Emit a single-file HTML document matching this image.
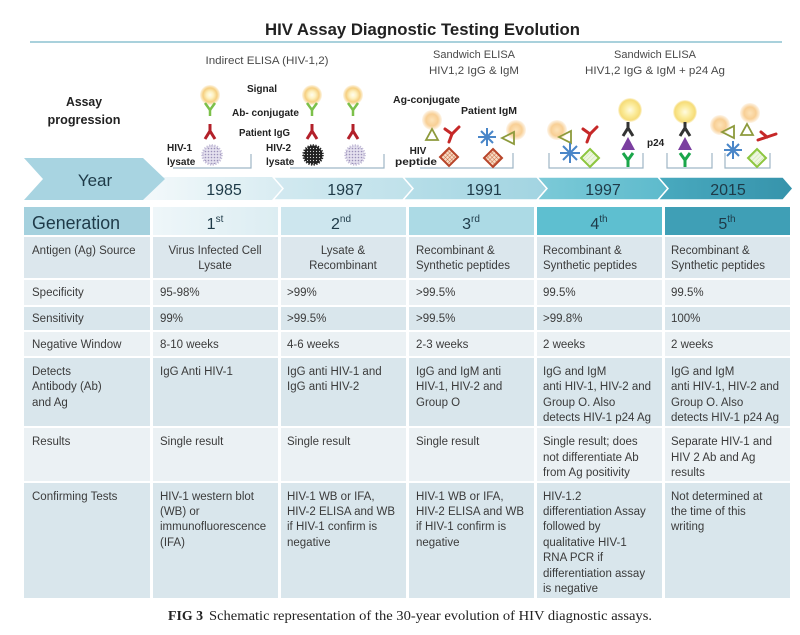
<!DOCTYPE html>
<html><head><meta charset="utf-8">
<style>
html,body{margin:0;padding:0;background:#fff;}
svg{display:block;}
text{font-family:"Liberation Sans",Arial,sans-serif;}
.t{font-size:11.5px;fill:#3b3b3b;}
.b{font-size:10px;font-weight:bold;fill:#222;}
.h{font-size:11px;fill:#4a4a4a;}
.y{font-size:16px;fill:#1e3a48;}
.o{font-size:16px;fill:#1e3a48;}
.s{font-size:10px;fill:#1e3a48;}
</style></head>
<body>
<svg width="800" height="635" viewBox="0 0 800 635" xmlns="http://www.w3.org/2000/svg">
<defs>
  <radialGradient id="sig" cx="50%" cy="50%" r="50%">
    <stop offset="0" stop-color="#fffdf0"/>
    <stop offset="0.35" stop-color="#fdf1c0"/>
    <stop offset="0.7" stop-color="#f6cf80"/>
    <stop offset="1" stop-color="#f6cf80" stop-opacity="0.2"/>
  </radialGradient>
  <radialGradient id="sigy" cx="50%" cy="50%" r="50%">
    <stop offset="0" stop-color="#fffbe0"/>
    <stop offset="0.5" stop-color="#fbeb9a"/>
    <stop offset="0.85" stop-color="#f6dc78"/>
    <stop offset="1" stop-color="#f6dc78" stop-opacity="0.2"/>
  </radialGradient>
  <radialGradient id="sigo" cx="50%" cy="50%" r="50%">
    <stop offset="0" stop-color="#fde3b8"/>
    <stop offset="0.6" stop-color="#f8cf95"/>
    <stop offset="1" stop-color="#f8cf95" stop-opacity="0.2"/>
  </radialGradient>
  <pattern id="dotsL" width="3" height="3" patternUnits="userSpaceOnUse">
    <rect width="3" height="3" fill="#e4e0ee"/>
    <circle cx="1.5" cy="1.5" r="0.8" fill="#9a90b8"/>
  </pattern>
  <pattern id="dotsD" width="3" height="3" patternUnits="userSpaceOnUse">
    <rect width="3" height="3" fill="#222"/>
    <circle cx="1.5" cy="1.5" r="0.6" fill="#ddd"/>
  </pattern>
  <pattern id="hatch" width="3" height="3" patternUnits="userSpaceOnUse" patternTransform="rotate(45)">
    <rect width="3" height="3" fill="#f7dcc4"/>
    <line x1="0" y1="0" x2="0" y2="3" stroke="#c4572f" stroke-width="0.8"/>
    <line x1="0" y1="0" x2="3" y2="0" stroke="#c4572f" stroke-width="0.8"/>
  </pattern>
  <pattern id="hatchG" width="3" height="3" patternUnits="userSpaceOnUse" patternTransform="rotate(45)">
    <rect width="3" height="3" fill="#eef6e0"/>
    <line x1="0" y1="0" x2="0" y2="3" stroke="#b5d98a" stroke-width="0.6"/>
  </pattern>
  <linearGradient id="g85" x1="0" x2="1"><stop offset="0" stop-color="#f4f9fb"/><stop offset="1" stop-color="#d6ebf1"/></linearGradient>
  <linearGradient id="g87" x1="0" x2="1"><stop offset="0" stop-color="#d2e9f0"/><stop offset="1" stop-color="#bfe1ea"/></linearGradient>
  <linearGradient id="g91" x1="0" x2="1"><stop offset="0" stop-color="#b6dee8"/><stop offset="1" stop-color="#a2d4e1"/></linearGradient>
  <linearGradient id="g97" x1="0" x2="1"><stop offset="0" stop-color="#7ccad8"/><stop offset="1" stop-color="#5dbacc"/></linearGradient>
  <linearGradient id="g15" x1="0" x2="1"><stop offset="0" stop-color="#49aabf"/><stop offset="1" stop-color="#3693ab"/></linearGradient>
  <linearGradient id="gen1" x1="0" x2="1"><stop offset="0" stop-color="#eef6f9"/><stop offset="1" stop-color="#dcedf2"/></linearGradient>
</defs>

<!-- Title -->
<text x="265" y="35" font-size="16.5" font-weight="bold" fill="#222" textLength="315" lengthAdjust="spacingAndGlyphs">HIV Assay Diagnostic Testing  Evolution</text>
<line x1="30" y1="42" x2="782" y2="42" stroke="#a9d1dc" stroke-width="2"/>

<!-- Assay headings -->
<text class="h" x="267" y="64" text-anchor="middle" textLength="123" lengthAdjust="spacingAndGlyphs">Indirect ELISA (HIV-1,2)</text>
<text class="h" x="474" y="58" text-anchor="middle" textLength="82" lengthAdjust="spacingAndGlyphs">Sandwich ELISA</text>
<text class="h" x="474" y="74" text-anchor="middle" textLength="90" lengthAdjust="spacingAndGlyphs">HIV1,2 IgG &amp; IgM</text>
<text class="h" x="655" y="58" text-anchor="middle" textLength="82" lengthAdjust="spacingAndGlyphs">Sandwich ELISA</text>
<text class="h" x="655" y="74" text-anchor="middle" textLength="140" lengthAdjust="spacingAndGlyphs">HIV1,2 IgG &amp; IgM + p24 Ag</text>

<text x="84" y="106" text-anchor="middle" font-size="12.5" font-weight="bold" fill="#222" textLength="36" lengthAdjust="spacingAndGlyphs">Assay</text>
<text x="84" y="124" text-anchor="middle" font-size="12.5" font-weight="bold" fill="#222" textLength="73" lengthAdjust="spacingAndGlyphs">progression</text>

<!-- small bold labels -->
<text class="b" x="262" y="92" text-anchor="middle">Signal</text>
<text class="b" x="232" y="116" textLength="67" lengthAdjust="spacingAndGlyphs">Ab- conjugate</text>
<text class="b" x="239" y="136" textLength="51" lengthAdjust="spacingAndGlyphs">Patient IgG</text>
<text class="b" x="167" y="151">HIV-1</text>
<text class="b" x="167" y="165">lysate</text>
<text class="b" x="266" y="151">HIV-2</text>
<text class="b" x="266" y="165">lysate</text>
<text class="b" x="393" y="103" textLength="67" lengthAdjust="spacingAndGlyphs">Ag-conjugate</text>
<text class="b" x="461" y="114" textLength="56" lengthAdjust="spacingAndGlyphs">Patient IgM</text>
<text class="b" x="418" y="154" text-anchor="middle">HIV</text>
<text class="b" x="395" y="165" textLength="42" lengthAdjust="spacingAndGlyphs">peptide</text>
<text class="b" x="647" y="146">p24</text>

<!-- brackets -->
<g stroke="#9fb6c6" stroke-width="1.2" fill="none">
  <polyline points="173,168 251,168 251,154"/>
  <polyline points="290,168 384,168 384,154"/>
  <polyline points="420,168 513,168 513,153"/>
  <polyline points="549,153 549,168 643,168 643,153"/>
  <polyline points="667,153 667,168 712,168 712,153"/>
  <polyline points="725,153 725,168 770,168 770,153"/>
</g>

<!-- Gen1/Gen2 icons -->
<g>
  <circle cx="210" cy="95" r="10" fill="url(#sig)"/>
  <circle cx="312" cy="95" r="10" fill="url(#sig)"/>
  <circle cx="353" cy="95" r="10" fill="url(#sig)"/>
  <g stroke="#7cc04a" stroke-width="2.5" fill="none">
    <polyline points="205,103 210,110 215,103"/><line x1="210" y1="110" x2="210" y2="116"/>
    <polyline points="307,103 312,110 317,103"/><line x1="312" y1="110" x2="312" y2="116"/>
    <polyline points="348,103 353,110 358,103"/><line x1="353" y1="110" x2="353" y2="116"/>
  </g>
  <g stroke="#b3202a" stroke-width="3" fill="none">
    <line x1="210" y1="124" x2="210" y2="131"/><polyline points="205,139 210,131 215,139"/>
    <line x1="312" y1="124" x2="312" y2="131"/><polyline points="307,139 312,131 317,139"/>
    <line x1="353" y1="124" x2="353" y2="131"/><polyline points="348,139 353,131 358,139"/>
  </g>
  <circle cx="212" cy="155" r="9.5" fill="url(#dotsL)" stroke="#c4bdd8" stroke-width="2.5" stroke-dasharray="1.2 1.4"/>
  <circle cx="313" cy="155" r="9.5" fill="url(#dotsD)" stroke="#222" stroke-width="2.5" stroke-dasharray="1.2 1.4"/>
  <circle cx="355" cy="155" r="9.5" fill="url(#dotsL)" stroke="#c4bdd8" stroke-width="2.5" stroke-dasharray="1.2 1.4"/>
</g>

<!-- Gen3 icons -->
<g>
  <circle cx="432" cy="120" r="10" fill="url(#sigo)"/>
  <polygon points="426,140 438,140 432,129" fill="none" stroke="#8d9a3c" stroke-width="1.8"/>
  <g stroke="#c62828" stroke-width="3" fill="none" stroke-linecap="round">
    <polyline points="445,129 452,134 459,127"/><line x1="452" y1="134" x2="449" y2="142"/>
  </g>
  <polygon points="449,148 458,157 449,166 440,157" fill="url(#hatch)" stroke="#b8452a" stroke-width="2"/>
  <g stroke="#4a86c8" stroke-width="2">
    <line x1="478" y1="137" x2="496" y2="137"/><line x1="487" y1="128" x2="487" y2="146"/>
    <line x1="481" y1="131" x2="493" y2="143"/><line x1="481" y1="143" x2="493" y2="131"/>
  </g>
  <circle cx="516" cy="130" r="10" fill="url(#sigo)"/>
  <polygon points="502,138 514,132 514,144" fill="none" stroke="#8d9a3c" stroke-width="1.8"/>
  <polygon points="493,149 502,158 493,167 484,158" fill="url(#hatch)" stroke="#b8452a" stroke-width="2"/>
</g>

<!-- Gen4 icons -->
<g>
  <circle cx="557" cy="130" r="10" fill="url(#sigo)"/>
  <polygon points="559,137 571,131 571,143" fill="none" stroke="#8d9a3c" stroke-width="1.8"/>
  <g stroke="#c62828" stroke-width="3" fill="none" stroke-linecap="round">
    <polyline points="583,129 590,134 597,127"/><line x1="590" y1="134" x2="587" y2="142"/>
  </g>
  <g stroke="#4a86c8" stroke-width="2">
    <line x1="560" y1="153" x2="580" y2="153"/><line x1="570" y1="143" x2="570" y2="163"/>
    <line x1="563" y1="146" x2="577" y2="160"/><line x1="563" y1="160" x2="577" y2="146"/>
  </g>
  <polygon points="590,149 599,158 590,167 581,158" fill="url(#hatchG)" stroke="#8dc63f" stroke-width="2"/>
  <circle cx="630" cy="110" r="12" fill="url(#sigy)"/>
  <g stroke="#333" stroke-width="3" fill="none">
    <line x1="628" y1="122" x2="628" y2="128"/><polyline points="623,136 628,128 633,136"/>
  </g>
  <polygon points="621,150 635,150 628,137" fill="#7b3fa0"/>
  <g stroke="#1aa64a" stroke-width="3" fill="none">
    <polyline points="623,153 628,160 633,153"/><line x1="628" y1="160" x2="628" y2="167"/>
  </g>
</g>

<!-- Gen5 icons -->
<g>
  <circle cx="685" cy="112" r="12" fill="url(#sigy)"/>
  <g stroke="#333" stroke-width="3" fill="none">
    <line x1="685" y1="122" x2="685" y2="128"/><polyline points="680,136 685,128 690,136"/>
  </g>
  <polygon points="678,150 692,150 685,137" fill="#7b3fa0"/>
  <g stroke="#1aa64a" stroke-width="3" fill="none">
    <polyline points="680,153 685,160 690,153"/><line x1="685" y1="160" x2="685" y2="167"/>
  </g>
  <circle cx="720" cy="125" r="10" fill="url(#sigo)"/>
  <polygon points="722,132 734,126 734,138" fill="none" stroke="#8d9a3c" stroke-width="1.8"/>
  <circle cx="750" cy="113" r="10" fill="url(#sigo)"/>
  <polygon points="741,135 753,135 747,124" fill="none" stroke="#8d9a3c" stroke-width="1.8"/>
  <g stroke="#c62828" stroke-width="3" fill="none" stroke-linecap="round">
    <polyline points="758,140 767,137 776,134"/><line x1="767" y1="137" x2="761" y2="132"/>
  </g>
  <g stroke="#4a86c8" stroke-width="2">
    <line x1="724" y1="150" x2="742" y2="150"/><line x1="733" y1="141" x2="733" y2="159"/>
    <line x1="727" y1="144" x2="739" y2="156"/><line x1="727" y1="156" x2="739" y2="144"/>
  </g>
  <polygon points="757,149 766,158 757,167 748,158" fill="url(#hatchG)" stroke="#8dc63f" stroke-width="2"/>
</g>

<!-- Year band -->
<g stroke="#fff" stroke-width="1.5">
  <polygon points="140,177 283,177 293,188.5 283,200 140,200" fill="url(#g85)" stroke="none"/>
  <polygon points="273,177 403,177 413,188.5 403,200 273,200 283,188.5" fill="url(#g87)"/>
  <polygon points="403,177 537,177 547,188.5 537,200 403,200 413,188.5" fill="url(#g91)"/>
  <polygon points="537,177 658,177 668,188.5 658,200 537,200 547,188.5" fill="url(#g97)"/>
  <polygon points="658,177 783,177 793,188.5 783,200 658,200 668,188.5" fill="url(#g15)"/>
</g>
<polygon points="24,158 143,158 165,179 143,200 24,200 43,179" fill="#a8d4e1"/>
<text x="95" y="186" text-anchor="middle" font-size="17" fill="#1e3a48">Year</text>
<text class="y" x="224" y="195" text-anchor="middle">1985</text>
<text class="y" x="345" y="195" text-anchor="middle">1987</text>
<text class="y" x="484" y="195" text-anchor="middle">1991</text>
<text class="y" x="603" y="195" text-anchor="middle">1997</text>
<text class="y" x="728" y="195" text-anchor="middle">2015</text>

<!-- Generation row -->
<rect x="24" y="207" width="126" height="28" fill="#a5d1de"/>
<rect x="153" y="207" width="125" height="28" fill="url(#gen1)"/>
<rect x="281" y="207" width="125" height="28" fill="#cde6ee"/>
<rect x="409" y="207" width="125" height="28" fill="#acdae5"/>
<rect x="537" y="207" width="125" height="28" fill="#5ebfd0"/>
<rect x="665" y="207" width="125" height="28" fill="#3f9fb6"/>
<text x="32" y="229" font-size="18" fill="#1e3a48" textLength="88" lengthAdjust="spacingAndGlyphs">Generation</text>
<text x="215" y="229" text-anchor="middle"><tspan class="o">1</tspan><tspan class="s" dy="-7">st</tspan></text>
<text x="341" y="229" text-anchor="middle"><tspan class="o">2</tspan><tspan class="s" dy="-7">nd</tspan></text>
<text x="471" y="229" text-anchor="middle"><tspan class="o">3</tspan><tspan class="s" dy="-7">rd</tspan></text>
<text x="599" y="229" text-anchor="middle"><tspan class="o">4</tspan><tspan class="s" dy="-7">th</tspan></text>
<text x="727" y="229" text-anchor="middle"><tspan class="o">5</tspan><tspan class="s" dy="-7">th</tspan></text>

<!-- Table rows backgrounds -->
<g>
  <g fill="#dce7ed">
    <rect x="24" y="237" width="126" height="41"/><rect x="153" y="237" width="125" height="41"/><rect x="281" y="237" width="125" height="41"/><rect x="409" y="237" width="125" height="41"/><rect x="537" y="237" width="125" height="41"/><rect x="665" y="237" width="125" height="41"/>
  </g>
  <g fill="#ebf1f4">
    <rect x="24" y="280" width="126" height="25"/><rect x="153" y="280" width="125" height="25"/><rect x="281" y="280" width="125" height="25"/><rect x="409" y="280" width="125" height="25"/><rect x="537" y="280" width="125" height="25"/><rect x="665" y="280" width="125" height="25"/>
  </g>
  <g fill="#d9e6ec">
    <rect x="24" y="307" width="126" height="23"/><rect x="153" y="307" width="125" height="23"/><rect x="281" y="307" width="125" height="23"/><rect x="409" y="307" width="125" height="23"/><rect x="537" y="307" width="125" height="23"/><rect x="665" y="307" width="125" height="23"/>
  </g>
  <g fill="#ebf1f4">
    <rect x="24" y="332" width="126" height="24"/><rect x="153" y="332" width="125" height="24"/><rect x="281" y="332" width="125" height="24"/><rect x="409" y="332" width="125" height="24"/><rect x="537" y="332" width="125" height="24"/><rect x="665" y="332" width="125" height="24"/>
  </g>
  <g fill="#d9e6ec">
    <rect x="24" y="358" width="126" height="68"/><rect x="153" y="358" width="125" height="68"/><rect x="281" y="358" width="125" height="68"/><rect x="409" y="358" width="125" height="68"/><rect x="537" y="358" width="125" height="68"/><rect x="665" y="358" width="125" height="68"/>
  </g>
  <g fill="#ebf1f4">
    <rect x="24" y="428" width="126" height="53"/><rect x="153" y="428" width="125" height="53"/><rect x="281" y="428" width="125" height="53"/><rect x="409" y="428" width="125" height="53"/><rect x="537" y="428" width="125" height="53"/><rect x="665" y="428" width="125" height="53"/>
  </g>
  <g fill="#d9e6ec">
    <rect x="24" y="483" width="126" height="115"/><rect x="153" y="483" width="125" height="115"/><rect x="281" y="483" width="125" height="115"/><rect x="409" y="483" width="125" height="115"/><rect x="537" y="483" width="125" height="115"/><rect x="665" y="483" width="125" height="115"/>
  </g>
</g>

<!-- Table text -->
<g class="t">
  <text class="t" x="32" y="254">Antigen (Ag) Source</text>
  <text class="t" x="215" y="254" text-anchor="middle">Virus Infected Cell</text>
  <text class="t" x="215" y="269" text-anchor="middle">Lysate</text>
  <text class="t" x="343" y="254" text-anchor="middle">Lysate &amp;</text>
  <text class="t" x="343" y="269" text-anchor="middle">Recombinant</text>
  <text class="t" x="416" y="254">Recombinant &amp;</text>
  <text class="t" x="416" y="269">Synthetic peptides</text>
  <text class="t" x="543" y="254">Recombinant &amp;</text>
  <text class="t" x="543" y="269">Synthetic peptides</text>
  <text class="t" x="671" y="254">Recombinant &amp;</text>
  <text class="t" x="671" y="269">Synthetic peptides</text>

  <text class="t" x="32" y="296">Specificity</text>
  <text class="t" x="160" y="296">95-98%</text>
  <text class="t" x="287" y="296">&gt;99%</text>
  <text class="t" x="416" y="296">&gt;99.5%</text>
  <text class="t" x="543" y="296">99.5%</text>
  <text class="t" x="671" y="296">99.5%</text>

  <text class="t" x="32" y="322">Sensitivity</text>
  <text class="t" x="160" y="322">99%</text>
  <text class="t" x="287" y="322">&gt;99.5%</text>
  <text class="t" x="416" y="322">&gt;99.5%</text>
  <text class="t" x="543" y="322">&gt;99.8%</text>
  <text class="t" x="671" y="322">100%</text>

  <text class="t" x="32" y="348">Negative Window</text>
  <text class="t" x="160" y="348">8-10 weeks</text>
  <text class="t" x="287" y="348">4-6 weeks</text>
  <text class="t" x="416" y="348">2-3 weeks</text>
  <text class="t" x="543" y="348">2 weeks</text>
  <text class="t" x="671" y="348">2 weeks</text>

  <text class="t" x="32" y="375">Detects</text>
  <text class="t" x="32" y="390">Antibody (Ab)</text>
  <text class="t" x="32" y="406">and Ag</text>
  <text class="t" x="160" y="375">IgG Anti HIV-1</text>
  <text class="t" x="287" y="375">IgG anti HIV-1 and</text>
  <text class="t" x="287" y="390">IgG anti HIV-2</text>
  <text class="t" x="416" y="375">IgG and IgM anti</text>
  <text class="t" x="416" y="390">HIV-1, HIV-2 and</text>
  <text class="t" x="416" y="406">Group O</text>
  <text class="t" x="543" y="375">IgG and IgM</text>
  <text class="t" x="543" y="390">anti HIV-1, HIV-2 and</text>
  <text class="t" x="543" y="406">Group O.  Also</text>
  <text class="t" x="543" y="421">detects HIV-1 p24 Ag</text>
  <text class="t" x="671" y="375">IgG and IgM</text>
  <text class="t" x="671" y="390">anti HIV-1, HIV-2 and</text>
  <text class="t" x="671" y="406">Group O.  Also</text>
  <text class="t" x="671" y="421">detects HIV-1 p24 Ag</text>

  <text class="t" x="32" y="445">Results</text>
  <text class="t" x="160" y="445">Single result</text>
  <text class="t" x="287" y="445">Single result</text>
  <text class="t" x="416" y="445">Single result</text>
  <text class="t" x="543" y="445">Single result; does</text>
  <text class="t" x="543" y="461">not differentiate Ab</text>
  <text class="t" x="543" y="476">from Ag positivity</text>
  <text class="t" x="671" y="445">Separate HIV-1 and</text>
  <text class="t" x="671" y="461">HIV 2 Ab and Ag</text>
  <text class="t" x="671" y="476">results</text>

  <text class="t" x="32" y="500">Confirming Tests</text>
  <text class="t" x="160" y="500">HIV-1 western blot</text>
  <text class="t" x="160" y="515">(WB) or</text>
  <text class="t" x="160" y="530">immunofluorescence</text>
  <text class="t" x="160" y="546">(IFA)</text>
  <text class="t" x="287" y="500">HIV-1  WB or IFA,</text>
  <text class="t" x="287" y="515">HIV-2 ELISA and WB</text>
  <text class="t" x="287" y="530">if HIV-1 confirm is</text>
  <text class="t" x="287" y="546">negative</text>
  <text class="t" x="416" y="500">HIV-1  WB or IFA,</text>
  <text class="t" x="416" y="515">HIV-2 ELISA and WB</text>
  <text class="t" x="416" y="530">if HIV-1 confirm is</text>
  <text class="t" x="416" y="546">negative</text>
  <text class="t" x="543" y="500">HIV-1.2</text>
  <text class="t" x="543" y="515">differentiation Assay</text>
  <text class="t" x="543" y="530">followed by</text>
  <text class="t" x="543" y="546">qualitative HIV-1</text>
  <text class="t" x="543" y="561">RNA PCR if</text>
  <text class="t" x="543" y="577">differentiation assay</text>
  <text class="t" x="543" y="592">is negative</text>
  <text class="t" x="671" y="500">Not determined at</text>
  <text class="t" x="671" y="515">the time of this</text>
  <text class="t" x="671" y="530">writing</text>
</g>

<!-- Caption -->
<text x="168" y="620" font-size="13.5" font-weight="bold" fill="#222" textLength="35" lengthAdjust="spacingAndGlyphs" style="font-family:'Liberation Serif',serif">FIG 3</text>
<text x="209" y="620" font-size="13.5" fill="#222" textLength="443" lengthAdjust="spacingAndGlyphs" style="font-family:'Liberation Serif',serif">Schematic representation of the 30-year evolution of HIV diagnostic assays.</text>
</svg>
</body></html>
